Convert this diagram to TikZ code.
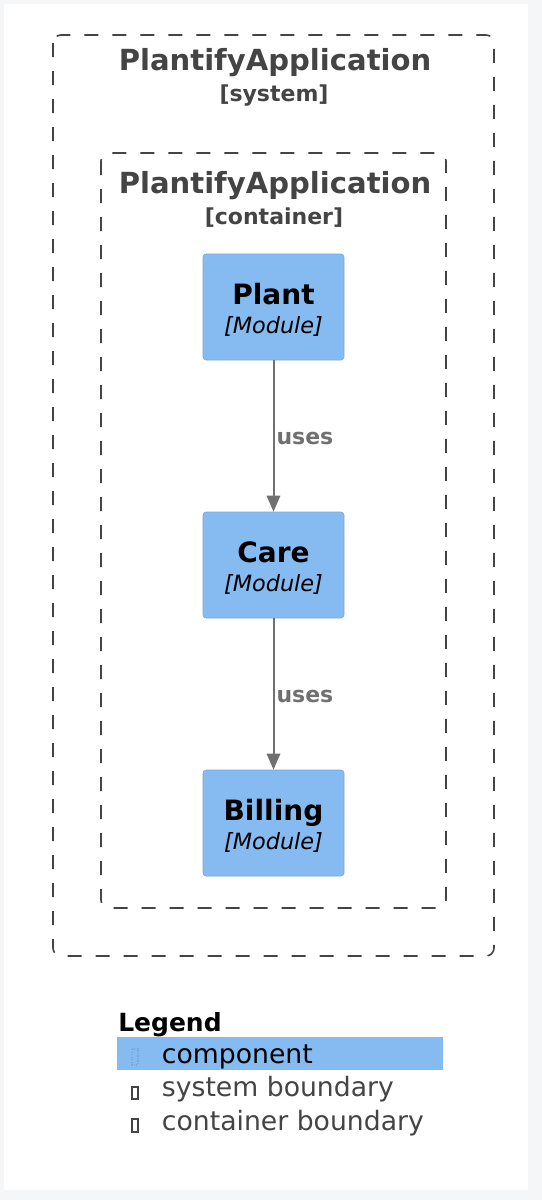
\documentclass[tikz,border=0pt]{standalone}
\usepackage{fontspec}
\setmainfont{DejaVu Sans}
\usetikzlibrary{arrows.meta}

\definecolor{bggray}{HTML}{F5F6F8}
\definecolor{txtgray}{HTML}{444444}
\definecolor{modfill}{HTML}{85BBF0}
\definecolor{modline}{HTML}{78A8D8}
\definecolor{relgray}{HTML}{707070}

\begin{document}
\begin{tikzpicture}[x=0.75pt,y=-0.75pt,
  boundary/.style={draw=txtgray, line width=1.2pt, dash pattern=on 10.5pt off 10.5pt, rounded corners=6pt},
  bndtitle/.style={anchor=base, inner sep=0pt, text=txtgray, font=\fontsize{21.8}{26}\selectfont\bfseries},
  bndtype/.style={anchor=base, inner sep=0pt, text=txtgray, font=\fontsize{16.5}{20}\selectfont\bfseries},
  module/.style={draw=modline, fill=modfill, rounded corners=2.25pt, minimum width=105.75pt,
    minimum height=79.5pt, align=center, inner sep=0pt, font=\fontsize{16.8}{21.75}\selectfont},
  rel/.style={draw=relgray, line width=1.5pt, -{Triangle[length=12pt,width=10pt]}},
  reltext/.style={right, inner sep=1.5pt, yshift=-1.5pt, text=relgray, font=\fontsize{16.5}{20}\selectfont\bfseries},
  legtext/.style={anchor=base west, inner sep=0pt, font=\fontsize{20}{24}\selectfont},
  tofu/.style={draw=txtgray, line width=0.9pt}
]

% page and panel
\useasboundingbox (0,0) rectangle (542,1200);
\fill[bggray] (0,0) rectangle (542,1200);
\fill[white] (4,4) rectangle (528,1190);

% system boundary
\draw[boundary] (53,35) rectangle (494,956);
\node[bndtitle] (systitle) at (275,70) {PlantifyApplication};
\node[bndtype] (systype) at (274,101) {[system]};

% container boundary
\draw[boundary] (101,153) rectangle (446,908);
\node[bndtitle] (contitle) at (275,193) {PlantifyApplication};
\node[bndtype] (contype) at (274,224) {[container]};

% modules
\node[module] (plant) at (273.5,307) {{\fontsize{21}{25}\selectfont\bfseries Plant}\rule{0pt}{19.5pt}\\{\itshape [Module]}};
\node[module] (care) at (273.5,565) {{\fontsize{21}{25}\selectfont\bfseries Care}\rule{0pt}{19.5pt}\\{\itshape [Module]}};
\node[module] (billing) at (273.5,823) {{\fontsize{21}{25}\selectfont\bfseries Billing}\rule{0pt}{19.5pt}\\{\itshape [Module]}};

\draw[rel] (plant) -- (care) node[midway, reltext] {uses};
\draw[rel] (care) -- (billing) node[midway, reltext] {uses};

% legend
\node[anchor=base west, inner sep=0pt, font=\fontsize{18.75}{22}\selectfont\bfseries] (legend) at (118,1031.7) {Legend};
\fill[modfill] (117.3,1037.3) rectangle (443.3,1070);
\draw[tofu, draw=modline, densely dotted] (132,1049) rectangle (138,1065);
\node[legtext] (legcomp) at (161.7,1063) {component};
\draw[tofu] (132,1087) rectangle (138,1099);
\node[legtext, text=txtgray] (legsys) at (161.7,1096.7) {system boundary};
\draw[tofu] (132,1119) rectangle (138,1132);
\node[legtext, text=txtgray] (legcon) at (161.7,1130) {container boundary};

\end{tikzpicture}
\end{document}
